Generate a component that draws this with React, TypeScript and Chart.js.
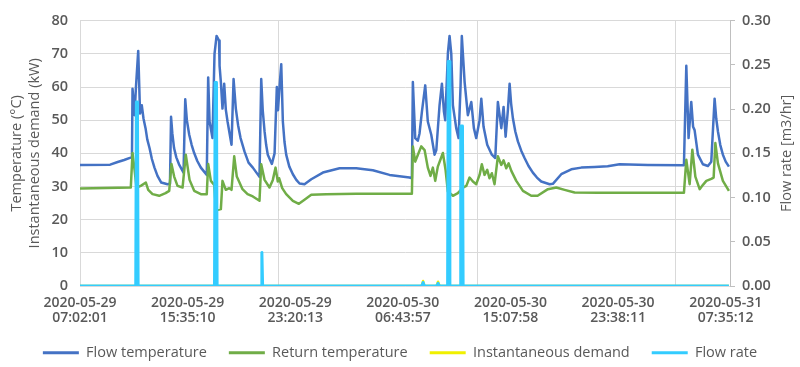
import React, { useEffect, useRef } from "react";
import { Chart, registerables } from "chart.js";
Chart.register(...registerables);

const xTickDates = ["2020-05-29", "2020-05-29", "2020-05-29", "2020-05-30", "2020-05-30", "2020-05-30", "2020-05-31"];
const xTickTimes = ["07:02:01", "15:35:10", "23:20:13", "06:43:57", "15:07:58", "23:38:11", "07:35:12"];
const xTickValues = [0, 100, 200, 300, 400, 500, 600];
const xGridValues = [184, 369, 553];

const flowTempX = [0,28,35,41,47,48.3,48.8,50.7,52,54.1,55.8,57.4,59,60.9,62.5,64.6,66.8,69.2,72,75.5,81.3,83.6,84.6,85.8,87.4,89.5,92,96.2,97.8,99.3,101.5,103.8,106.1,109,112.3,117.8,119.1,120.4,123.1,125,126.9,129.2,129.7,130.9,132.4,134,135.5,137.1,140.8,142.7,144.8,146.9,149.2,152.9,156.6,160.6,166.8,168.4,169.8,171.5,173,174.5,178.3,180.8,182.9,184,185.4,187,188.5,190,191.6,194.5,197.8,201,204,208.6,214.9,225.7,241.2,256.7,272.1,287.6,306.2,308.4,309.3,311.5,313.9,315.5,317.7,320.8,323.2,326.4,329.5,331.1,334.1,336.3,338.2,339.4,341.9,343.4,345,346.5,349.6,351.8,353.6,354.8,357.4,360.4,363.6,366,368.2,371.3,372.9,375,378.4,382.7,385.9,388.3,391.5,393.6,395.5,397.6,399.2,400.6,402.3,404.5,406.9,410,413.1,416.8,420.8,424.6,428.6,436.4,439.4,447.2,456.5,465.8,478.2,490.3,501.4,527.7,561.2,563.4,565.5,568,569.7,571.1,574.2,578.8,583.5,586.6,589.7,591.2,592.8,595,597.4,600,603];
const flowTempY = [36.5,36.6,37.4,38.0,38.7,38.9,59.5,51.5,60,70.9,52,54.5,50.5,47.6,44.2,41.6,38.3,35.7,33.2,31.2,30.7,30.8,51,46,41.6,38.8,36.7,34.2,56.3,50,45.6,42.5,40.1,37.7,35.7,33.5,62.9,49.6,44.6,70,75.4,74,66.4,61.5,53.5,61,53.2,49.6,42.6,62.4,53.5,48.5,44.6,40.5,37.2,35.7,32.9,62.4,53,46.6,42.5,39.6,36.8,40,60,53,60,66.9,49.6,43.5,39.6,36,33.7,32,30.9,30.7,32.2,34.2,35.5,35.5,34.9,33.5,32.7,32.5,61.5,44.6,43.8,46,52.5,60.5,49.6,45.6,39.6,41,54.5,61,52.5,50,70.4,75.4,70,54.5,47.6,44.6,60,75.4,61.5,51.5,55.5,47.6,44.6,50,56.5,48,42.6,39.6,38.6,55.5,47.6,54,45,53,61,55,50.5,46.6,43.6,40.8,38.6,36.2,34.2,32.7,31.5,30.7,30.8,33.7,35.2,35.7,35.9,36.1,36.7,36.5,36.4,66.4,44.6,55.5,48,47,39.6,36.7,36.2,37.5,56.5,50.5,46.6,42.5,39.6,37.5,36];

const returnTempX = [0,47.2,48.8,50.7,52.5,56.5,61.2,63.4,67.4,73.6,79.5,82.9,85,87.5,90.6,95.3,98.3,101.8,106.1,112.3,117.8,119.1,121.6,124.7,126.4,130.9,132.4,135.5,138.7,140.8,143.3,145.7,151,155.7,160.6,166.8,168.4,171.5,176.1,179.2,181.7,183.8,185,187.9,191.6,197.8,203.4,208.6,214.9,228.8,256.7,287.6,308.4,309.3,311.5,313.9,317.1,320.2,323.2,325.7,327.9,330.1,332.5,337.2,339.7,341.8,346.5,351.1,355.9,359,362,365.1,368.2,371.3,373.4,375.9,378.4,380.5,382.7,385.2,388.3,391.5,393.6,396.1,398.3,400.8,405.4,411.6,419.3,425.2,434.8,442.6,450.3,459.6,481.2,520,561.2,563.4,566.5,569,571.8,575.8,578.9,582,586.6,588.8,590.4,592.8,597.4,603];
const returnTempY = [29.4,29.7,40.1,35,29.7,30.2,31.2,29,27.7,27.2,28,28.7,36.8,33,30.2,29.7,39.6,32,28.7,27.7,27.7,36.8,31.7,30.5,22.8,23.2,31.7,29,29.5,29,39.1,33,29.2,27.7,27,25.7,36.7,32,29.7,32,35.7,31.5,32.5,29.5,27.7,25.7,24.8,26,27.5,27.7,27.8,27.8,27.8,42.1,37.5,39.5,42.1,41,35.7,33.2,35.7,31.7,36,40.1,35,28.5,27.2,28,29.7,30.2,32.7,31.5,30.7,33.5,36.7,33.5,35,32.5,34,30.7,39.1,36.5,37.9,35.5,37,34.7,31.7,28.7,27.2,27.2,29.2,29.7,29,28.2,28.1,28.1,28.1,38.1,30.7,41.1,33,29.2,30.5,31.7,32.3,32.7,43.1,37,31.7,28.7];

const demandX = [0,317.4,318.8,320.2,331.3,332.7,334.1,603];
const demandY = [0,0,1.5,0,0,1.3,0,0];

const flowRateX = [0,51.8,52.4,53.4,54,125,125.6,126.8,127.4,168.3,169,169.7,317.6,318.8,320,331.5,332.7,333.9,341.6,342.2,343.1,343.7,353.2,353.8,355.4,356,603];
const flowRateY = [0,0,0.208,0.208,0,0,0.23,0.23,0,0,0.038,0,0,0.004,0,0,0.003,0,0,0.254,0.254,0,0,0.181,0.181,0,0];

const FONT = "'Open Sans', sans-serif";
const TEXT = "#595959";

export default function App() {
  const ref = useRef<HTMLCanvasElement>(null);
  useEffect(() => {
    document.body.style.margin = "0";
    const pts = (xs: number[], ys: number[]) => xs.map((x, i) => ({ x, y: ys[i] }));
    const rightTitle = {
      id: "rightTitle",
      afterDraw(chart: any) {
        const { ctx, chartArea } = chart;
        ctx.save();
        ctx.translate(chart.width - 13, (chartArea.top + chartArea.bottom) / 2);
        ctx.rotate(-Math.PI / 2);
        ctx.font = `14.5px ${FONT}`;
        ctx.fillStyle = TEXT;
        ctx.textAlign = "center";
        ctx.textBaseline = "middle";
        ctx.fillText("Flow rate [m3/hr]", 0, 0);
        ctx.restore();
      },
    };
    const allXTicks = [...xTickValues, ...xGridValues].sort((a, b) => a - b);
    const chart = new Chart(ref.current!, {
      type: "line",
      data: {
        datasets: [
          { label: "Flow temperature", data: pts(flowTempX, flowTempY), borderColor: "#4472C4", backgroundColor: "#4472C4", borderWidth: 2.5, yAxisID: "y", order: 3 },
          { label: "Return temperature", data: pts(returnTempX, returnTempY), borderColor: "#70AD47", backgroundColor: "#70AD47", borderWidth: 2.5, yAxisID: "y", order: 2 },
          { label: "Instantaneous demand", data: pts(demandX, demandY), borderColor: "#F0F000", backgroundColor: "#F0F000", borderWidth: 2.5, yAxisID: "y", order: 1 },
          { label: "Flow rate", data: pts(flowRateX, flowRateY), borderColor: "#33CCFF", backgroundColor: "#33CCFF", borderWidth: 3, yAxisID: "y2", order: 0 },
        ],
      },
      options: {
        responsive: false,
        animation: false,
        devicePixelRatio: 1,
        layout: { padding: { top: 17, left: 0, right: 0, bottom: -3 } },
        elements: { point: { radius: 0 }, line: { tension: 0, borderJoinStyle: "round", fill: false } },
        plugins: {
          tooltip: { enabled: false },
          legend: {
            position: "bottom",
            labels: {
              font: { family: FONT, size: 14.5 },
              color: TEXT,
              boxWidth: 36,
              boxHeight: 3,
              padding: 22,
              sort: (a: any, b: any) => a.datasetIndex - b.datasetIndex,
              generateLabels: (c: any) =>
                Chart.defaults.plugins.legend.labels.generateLabels(c).map((l: any) => ({ ...l, lineWidth: 0 })),
            },
          },
        },
        scales: {
          x: {
            type: "linear",
            min: 0,
            max: 604,
            afterBuildTicks: (s: any) => { s.ticks = allXTicks.map((v) => ({ value: v })); },
            afterFit: (s: any) => { s.height = 37.5; },
            grid: {
              drawTicks: false,
              color: (c: any) => (c.tick && xGridValues.includes(c.tick.value) ? "#d9d9d9" : "rgba(0,0,0,0)"),
            },
            border: { color: "#d9d9d9" },
            ticks: {
              autoSkip: false,
              maxRotation: 0,
              padding: 9,
              color: TEXT,
              font: { family: FONT, size: 14, weight: 600, lineHeight: 1.1 },
              callback: (v: any) => {
                const i = xTickValues.indexOf(v);
                return i >= 0 ? [xTickDates[i], xTickTimes[i]] : "";
              },
            },
          },
          y: {
            position: "left",
            min: 0,
            max: 80,
            afterFit: (s: any) => { s.width = 80; },
            grid: { color: "#d9d9d9", drawTicks: false },
            border: { color: "#d9d9d9" },
            ticks: { stepSize: 10, padding: 12, color: TEXT, font: { family: FONT, size: 14.5, weight: 600 } },
            title: {
              display: true,
              text: ["Temperature (°C)", "Instantaneous demand (kW)"],
              color: TEXT,
              font: { family: FONT, size: 14.5, lineHeight: 1.2 },
              padding: { top: 8.5, bottom: 0 },
            },
          },
          y2: {
            position: "right",
            min: 0,
            max: 0.3,
            afterFit: (s: any) => { s.width = 70; },
            grid: { drawOnChartArea: false, drawTicks: true, tickLength: 5, color: "#bfbfbf" },
            border: { color: "#bfbfbf" },
            ticks: { stepSize: 0.05, padding: 7, color: TEXT, font: { family: FONT, size: 14.5, weight: 600 }, callback: (v: any) => Number(v).toFixed(2) },
          },
        },
      },
      plugins: [rightTitle],
    } as any);
    return () => chart.destroy();
  }, []);
  return (
    <div style={{ position: "absolute", left: 0, top: 0, width: 800, height: 367 }}>
      <canvas ref={ref} width={800} height={367} style={{ display: "block", width: 800, height: 367 }} />
    </div>
  );
}
